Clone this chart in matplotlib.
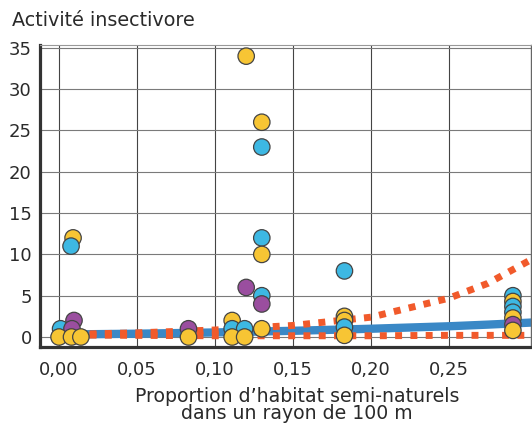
import matplotlib.pyplot as plt

# points (x = proportion of habitat, y = activity)
yellow_x = [0.0, 0.009, 0.008, 0.014, 0.083, 0.111, 0.111, 0.120, 0.119, 0.130, 0.130, 0.130, 0.183, 0.183, 0.183, 0.291, 0.291, 0.291]
yellow_y = [0, 12, 0, 0, 0, 2, 0, 34, 0, 26, 10, 1, 2.5, 2, 0.2, 4.3, 2.3, 0.8]
cyan_x = [0.001, 0.0077, 0.111, 0.119, 0.130, 0.130, 0.130, 0.183, 0.183, 0.291, 0.291, 0.291]
cyan_y = [1, 11, 1, 1, 23, 12, 5, 8, 1.2, 5, 3.7, 3]
purple_x = [0.0096, 0.0083, 0.083, 0.120, 0.130, 0.291]
purple_y = [2, 1, 1, 6, 4, 1.5]

# fitted curve and its bounds
fit_x = [0.0, 0.05, 0.10, 0.15, 0.20, 0.25, 0.275, 0.303]
fit_y = [0.3, 0.4, 0.55, 0.75, 1.0, 1.3, 1.5, 1.75]
upper_y = [0.3, 0.5, 0.85, 1.4, 2.4, 4.7, 6.5, 9.4]
lower_y = [0.25, 0.2, 0.15, 0.15, 0.15, 0.2, 0.2, 0.2]

xticks = [0.0, 0.05, 0.10, 0.15, 0.20, 0.25]
xticklabels = ['0,00', '0,05', '0,10', '0,15', '0,20', '0,25']
yticks = [0, 5, 10, 15, 20, 25, 30, 35]

YELLOW = '#f7c534'
CYAN = '#3db8e3'
PURPLE = '#9a4e9f'
RED = '#f15a2b'
BLUE = '#3a88c6'

fig = plt.figure(figsize=(5.32, 4.26), dpi=100)
ax = fig.add_axes([40 / 532, 1 - 347 / 426, 491 / 532, 302 / 426])

ax.plot(fit_x, fit_y, color=BLUE, lw=6, solid_capstyle='butt', zorder=2)
for ys in (upper_y, lower_y):
    ax.plot(fit_x, ys, color=RED, lw=5, linestyle=(0, (1, 1.2)),
            dash_capstyle='butt', zorder=3)

# stack points so the lower ones sit on top, like the original
pts = [(x, y, YELLOW) for x, y in zip(yellow_x, yellow_y)]
pts += [(x, y, CYAN) for x, y in zip(cyan_x, cyan_y)]
pts += [(x, y, PURPLE) for x, y in zip(purple_x, purple_y)]
pts.sort(key=lambda p: -p[1])
ax.scatter([p[0] for p in pts], [p[1] for p in pts], c=[p[2] for p in pts],
           s=140, edgecolors='#444444', linewidths=0.9, zorder=4)

ax.set_xlim(-0.0122, 0.3026)
ax.set_ylim(-1.21, 35.35)
ax.set_xticks(xticks)
ax.set_xticklabels(xticklabels)
ax.set_yticks(yticks)
ax.tick_params(length=0, labelsize=13, colors='#2a2a2a')
ax.tick_params(axis='x', pad=10)
ax.tick_params(axis='y', pad=6)

ax.xaxis.grid(True, color='#444444', lw=0.8)
ax.yaxis.grid(True, color='#7a7a7a', lw=0.8)
ax.set_axisbelow(True)

for s in ('left', 'bottom'):
    ax.spines[s].set_linewidth(2.3)
    ax.spines[s].set_color('#333333')
ax.spines['top'].set_linewidth(0.8)
ax.spines['top'].set_color('#999999')
ax.spines['right'].set_linewidth(1.0)
ax.spines['right'].set_color('#666666')

fig.text(12 / 532, 1 - 20 / 426, 'Activité insectivore', fontsize=13.8,
         color='#2a2a2a', va='center', ha='left')
fig.text(297 / 532, 1 - 405 / 426,
         'Proportion d\u2019habitat semi-naturels\ndans un rayon de 100 m',
         fontsize=13.6, color='#2a2a2a', ha='center', va='center',
         linespacing=0.9)

fig.savefig('out.png', dpi=100)
